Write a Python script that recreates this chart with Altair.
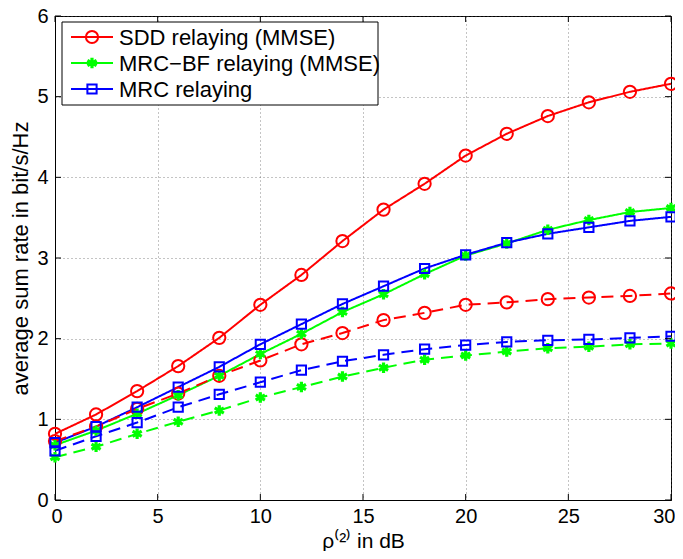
import altair as alt
import pandas as pd

snr = [0, 2, 4, 6, 8, 10, 12, 14, 16, 18, 20, 22, 24, 26, 28, 30]
sdd_solid = [0.82, 1.06, 1.35, 1.66, 2.01, 2.42, 2.79, 3.21, 3.60, 3.92, 4.27, 4.54, 4.76, 4.93, 5.06, 5.16]
bf_solid = [0.68, 0.86, 1.07, 1.30, 1.54, 1.81, 2.06, 2.33, 2.55, 2.80, 3.03, 3.18, 3.35, 3.47, 3.57, 3.62]
mrc_solid = [0.71, 0.91, 1.15, 1.40, 1.65, 1.93, 2.18, 2.43, 2.65, 2.87, 3.04, 3.19, 3.30, 3.38, 3.46, 3.51]
sdd_dash = [0.73, 0.91, 1.13, 1.32, 1.54, 1.73, 1.93, 2.07, 2.23, 2.32, 2.42, 2.45, 2.49, 2.51, 2.53, 2.56]
bf_dash = [0.53, 0.66, 0.82, 0.97, 1.11, 1.27, 1.40, 1.53, 1.64, 1.74, 1.79, 1.84, 1.88, 1.90, 1.93, 1.94]
mrc_dash = [0.61, 0.79, 0.96, 1.15, 1.31, 1.46, 1.61, 1.72, 1.80, 1.87, 1.92, 1.96, 1.98, 1.99, 2.01, 2.03]

algos = ["SDD relaying (MMSE)", "MRC\u2212BF relaying (MMSE)", "MRC relaying"]
colors = ["#ff0000", "#00ff00", "#0000ff"]
xticks = [0, 5, 10, 15, 20, 25, 30]
yticks = [0, 1, 2, 3, 4, 5, 6]

STAR = "M0,-1L0,1M-0.87,-0.5L0.87,0.5M-0.87,0.5L0.87,-0.5"
shapes = ["circle", STAR, "square"]
sizes = [150, 110, 85]
mstroke = [2, 3.2, 2]

series = [
    (algos[0], "solid", sdd_solid),
    (algos[1], "solid", bf_solid),
    (algos[2], "solid", mrc_solid),
    (algos[0], "dashed", sdd_dash),
    (algos[1], "dashed", bf_dash),
    (algos[2], "dashed", mrc_dash),
]
rows = []
for name, style, vals in series:
    for xv, yv in zip(snr, vals):
        rows.append({"algo": name, "style": style, "key": name + style, "x": xv, "y": yv})
df = pd.DataFrame(rows)

W, H = 616, 484
FONT = "Liberation Sans"

xs = alt.Scale(domain=[0, 30], nice=False, zero=False)
ys = alt.Scale(domain=[0, 6], nice=False)
X = alt.X("x:Q", scale=xs, axis=alt.Axis(
    values=xticks, title="\u03c1\u207d\u00b2\u207e in dB", grid=True,
    ticks=False, labelPadding=6, labelFlush=True, labelFlushOffset=4, format="d",
    titleY=47, titleBaseline="alphabetic", titleFontSize=21))
Y = alt.Y("y:Q", scale=ys, axis=alt.Axis(values=yticks, title="average sum rate in bit/s/Hz", grid=True,
          ticks=False, labelPadding=7, titlePadding=4, format="d"))

base = alt.Chart(df)
lines = base.mark_line(strokeWidth=2).encode(
    x=X, y=Y,
    color=alt.Color("algo:N", scale=alt.Scale(domain=algos, range=colors), legend=None),
    strokeDash=alt.StrokeDash("style:N", scale=alt.Scale(domain=["solid", "dashed"], range=[[1, 0], [12, 7]]), legend=None),
    detail="key:N",
)

layers = [lines]
for a, c, s, sz, sw in zip(algos, colors, shapes, sizes, mstroke):
    layers.append(
        base.transform_filter(alt.datum.algo == a).mark_point(
            shape=s, size=sz, filled=False, color=c, strokeWidth=sw, opacity=1
        ).encode(x="x:Q", y="y:Q")
    )

# inside ticks (MATLAB style)
xt = pd.DataFrame({"t": xticks})
yt = pd.DataFrame({"t": yticks})
tk = 6
layers += [
    alt.Chart(xt).mark_rule(color="black", strokeWidth=1).encode(x=alt.X("t:Q", scale=xs), y=alt.value(H), y2=alt.value(H - tk)),
    alt.Chart(xt).mark_rule(color="black", strokeWidth=1).encode(x=alt.X("t:Q", scale=xs), y=alt.value(0), y2=alt.value(tk)),
    alt.Chart(yt).mark_rule(color="black", strokeWidth=1).encode(y=alt.Y("t:Q", scale=ys), x=alt.value(0), x2=alt.value(tk)),
    alt.Chart(yt).mark_rule(color="black", strokeWidth=1).encode(y=alt.Y("t:Q", scale=ys), x=alt.value(W), x2=alt.value(W - tk)),
]

# legend box
one = pd.DataFrame({"a": [0]})
layers.append(
    alt.Chart(one).mark_rect(fill="white", stroke="black", strokeWidth=1).encode(
        x=alt.value(7), x2=alt.value(323), y=alt.value(6), y2=alt.value(89))
)
for i, (a, c, s, sz, sw) in enumerate(zip(algos, colors, shapes, sizes, mstroke)):
    yy = 21 + 26 * i
    layers.append(alt.Chart(one).mark_rule(color=c, strokeWidth=2).encode(
        x=alt.value(16), x2=alt.value(58), y=alt.value(yy)))
    layers.append(alt.Chart(one).mark_point(shape=s, size=sz, filled=False, color=c, strokeWidth=sw, opacity=1).encode(
        x=alt.value(37), y=alt.value(yy)))
    layers.append(alt.Chart(one).mark_text(text=a, align="left", baseline="middle", fontSize=22, font=FONT, color="black").encode(
        x=alt.value(64), y=alt.value(yy + 1)))

chart = alt.layer(*layers).properties(
    width=W, height=H,
    autosize=alt.AutoSizeParams(type="none"),
    padding={"left": 47, "top": 8, "right": 4, "bottom": 51},
).configure_view(stroke="black", strokeWidth=1).configure_axis(
    labelFont=FONT, titleFont=FONT, labelFontSize=20, titleFontSize=22,
    labelColor="black", titleColor="black", titleFontWeight="normal",
    domainColor="black", gridColor="#555555", gridDash=[1, 3], gridOpacity=0.7,
    labelOverlap=False,
)

chart.save("out.html", embed_options={"renderer": "svg", "actions": False})
